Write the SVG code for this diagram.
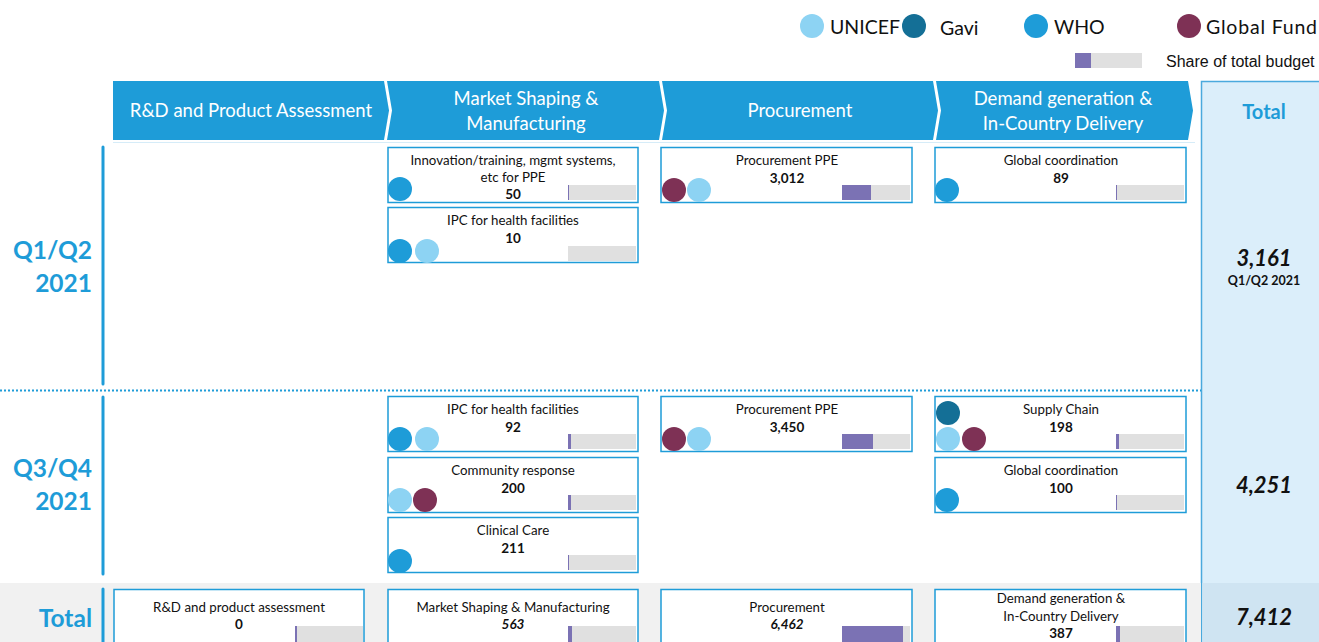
<svg xmlns="http://www.w3.org/2000/svg" width="1319" height="642" viewBox="0 0 1319 642">
<style>
text{font-family:Lato,"Open Sans","Liberation Sans",sans-serif;}
.hd{fill:#fff;font-size:18.5px;text-anchor:middle;}
.hdbg{fill:#1e9cd8;}
.card{fill:#fff;stroke:#1e9cd8;stroke-width:1.5;}
.t{font-size:13.3px;fill:#111;text-anchor:middle;}
.v{font-size:13.5px;fill:#111;font-weight:bold;text-anchor:middle;}
.vi{font-size:13.5px;fill:#111;font-weight:bold;font-style:italic;text-anchor:middle;}
.q{font-size:24.5px;font-weight:bold;fill:#1e9cd8;text-anchor:end;}
.bg{fill:#e0e0e0;}
.pu{fill:#7b72b4;}
.un{fill:#8dd3f3;}
.ga{fill:#146f96;}
.wh{fill:#1e9cd8;}
.gf{fill:#7e3155;}
.vl{stroke:#1e9cd8;stroke-width:3;stroke-linecap:round;}
.tot{font-size:22px;font-weight:bold;font-style:italic;fill:#111;text-anchor:middle;}
.lg{font-size:19.5px;fill:#111;}
</style>
<rect width="1319" height="642" fill="#fff"/>
<!-- legend -->
<g id="legend">
<circle class="un" cx="812" cy="26" r="12"/><text class="lg" x="830" y="34">UNICEF</text>
<circle class="ga" cx="914" cy="26" r="12"/><text class="lg" x="940" y="35">Gavi</text>
<circle class="wh" cx="1036" cy="26" r="12"/><text class="lg" x="1054" y="34">WHO</text>
<circle class="gf" cx="1189" cy="26" r="12"/><text class="lg" x="1206" y="34" textLength="111">Global Fund</text>
<rect class="bg" x="1075" y="53" width="67" height="15"/><rect class="pu" x="1075" y="53" width="16" height="15"/>
<text x="1166" y="67" style="font-family:'Liberation Sans',Arial,sans-serif;font-size:16px;fill:#111">Share of total budget</text>
</g>
<!-- total column -->
<g id="total-col">
<rect x="1201.5" y="81.5" width="120" height="570" fill="#dbeefa" stroke="#4aa9dd" stroke-width="1.5"/>
<rect x="1202.3" y="583" width="118" height="60" fill="#cfe4f2"/>
<text x="1264" y="119" style="font-size:20px;font-weight:bold;fill:#1e9cd8" text-anchor="middle">Total</text>
<text class="tot" x="1264" y="266">3,161</text>
<text x="1264" y="285" style="font-size:12.5px;font-weight:bold;fill:#111" text-anchor="middle">Q1/Q2 2021</text>
<text class="tot" x="1264" y="493">4,251</text>
<text class="tot" x="1264" y="625">7,412</text>
</g>
<!-- bottom band -->
<rect x="0" y="583" width="1201" height="60" fill="#f1f1f1"/>
<!-- headers -->
<g id="headers">
<polygon class="hdbg" points="113,81 384,81 389,110.5 384,140 113,140"/>
<polygon class="hdbg" points="387,81 659,81 664,110.5 659,140 387,140 392,110.5"/>
<polygon class="hdbg" points="662,81 933,81 938,110.5 933,140 662,140 667,110.5"/>
<polygon class="hdbg" points="936,81 1188,81 1193,110.5 1188,140 936,140 941,110.5"/>
<text class="hd" x="251" y="117">R&amp;D and Product Assessment</text>
<text class="hd" x="526" y="105">Market Shaping &amp;</text>
<text class="hd" x="526" y="130">Manufacturing</text>
<text class="hd" x="800" y="117">Procurement</text>
<text class="hd" x="1063" y="105">Demand generation &amp;</text>
<text class="hd" x="1063" y="130">In-Country Delivery</text>
</g>
<line x1="113" y1="142.5" x2="1195" y2="142.5" stroke="#d6ecf8" stroke-width="1"/>
<!-- row labels -->
<g id="rows">
<line class="vl" x1="103" y1="147" x2="103" y2="384"/>
<text class="q" x="92" y="259">Q1/Q2</text>
<text class="q" x="92" y="292">2021</text>
<line x1="0" y1="390.5" x2="1201" y2="390.5" stroke="#1e9cd8" stroke-width="2" stroke-dasharray="2,2"/>
<line class="vl" x1="103" y1="397" x2="103" y2="574"/>
<text class="q" x="92" y="477">Q3/Q4</text>
<text class="q" x="92" y="510">2021</text>
<line class="vl" x1="103" y1="589" x2="103" y2="645"/>
<text class="q" x="92" y="627">Total</text>
</g>
<!-- Q1/Q2 cards -->
<g id="q1-innovation">
<rect class="card" x="388" y="147.5" width="250" height="55"/>
<text class="t" x="513" y="165">Innovation/training, mgmt systems,</text>
<text class="t" x="513" y="182">etc for PPE</text>
<text class="v" x="513" y="199">50</text>
<rect class="bg" x="568" y="185" width="68" height="15"/><rect class="pu" x="568" y="185" width="1" height="15"/>
<circle class="wh" cx="400" cy="189" r="12"/>
</g>
<g id="q1-ipc">
<rect class="card" x="388" y="207.5" width="250" height="55"/>
<text class="t" x="513" y="225">IPC for health facilities</text>
<text class="v" x="513" y="243">10</text>
<rect class="bg" x="568" y="246" width="68" height="15"/>
<circle class="wh" cx="400" cy="251" r="12"/><circle class="un" cx="427" cy="251" r="12"/>
</g>
<g id="q1-procurement">
<rect class="card" x="661" y="147.5" width="251" height="55"/>
<text class="t" x="787" y="165">Procurement PPE</text>
<text class="v" x="787" y="183">3,012</text>
<rect class="bg" x="842" y="185" width="68" height="15"/><rect class="pu" x="842" y="185" width="29" height="15"/>
<circle class="gf" cx="674" cy="190" r="12"/><circle class="un" cx="699" cy="190" r="12"/>
</g>
<g id="q1-global">
<rect class="card" x="935" y="147.5" width="251" height="55"/>
<text class="t" x="1061" y="165">Global coordination</text>
<text class="v" x="1061" y="183">89</text>
<rect class="bg" x="1116" y="185" width="68" height="15"/><rect class="pu" x="1116" y="185" width="1" height="15"/>
<circle class="wh" cx="947" cy="190" r="12"/>
</g>
<!-- Q3/Q4 cards -->
<g id="q3-ipc">
<rect class="card" x="388" y="396.5" width="250" height="55"/>
<text class="t" x="513" y="414">IPC for health facilities</text>
<text class="v" x="513" y="432">92</text>
<rect class="bg" x="568" y="434" width="68" height="15"/><rect class="pu" x="568" y="434" width="3" height="15"/>
<circle class="wh" cx="400" cy="439" r="12"/><circle class="un" cx="427" cy="439" r="12"/>
</g>
<g id="q3-community">
<rect class="card" x="388" y="457.5" width="250" height="55"/>
<text class="t" x="513" y="475">Community response</text>
<text class="v" x="513" y="493">200</text>
<rect class="bg" x="568" y="495" width="68" height="15"/><rect class="pu" x="568" y="495" width="3" height="15"/>
<circle class="un" cx="400" cy="500" r="12"/><circle class="gf" cx="425" cy="500" r="12"/>
</g>
<g id="q3-clinical">
<rect class="card" x="388" y="517.5" width="250" height="55"/>
<text class="t" x="513" y="535">Clinical Care</text>
<text class="v" x="513" y="553">211</text>
<rect class="bg" x="568" y="555" width="68" height="15"/><rect class="pu" x="568" y="555" width="1" height="15"/>
<circle class="wh" cx="400" cy="561" r="12"/>
</g>
<g id="q3-procurement">
<rect class="card" x="661" y="396.5" width="251" height="55"/>
<text class="t" x="787" y="414">Procurement PPE</text>
<text class="v" x="787" y="432">3,450</text>
<rect class="bg" x="842" y="434" width="68" height="15"/><rect class="pu" x="842" y="434" width="31" height="15"/>
<circle class="gf" cx="674" cy="439" r="12"/><circle class="un" cx="699" cy="439" r="12"/>
</g>
<g id="q3-supply">
<rect class="card" x="935" y="396.5" width="251" height="55"/>
<text class="t" x="1061" y="414">Supply Chain</text>
<text class="v" x="1061" y="432">198</text>
<rect class="bg" x="1116" y="434" width="68" height="15"/><rect class="pu" x="1116" y="434" width="3" height="15"/>
<circle class="ga" cx="948" cy="413" r="12"/><circle class="un" cx="948" cy="439" r="12"/><circle class="gf" cx="974" cy="439" r="12"/>
</g>
<g id="q3-global">
<rect class="card" x="935" y="457.5" width="251" height="55"/>
<text class="t" x="1061" y="475">Global coordination</text>
<text class="v" x="1061" y="493">100</text>
<rect class="bg" x="1116" y="495" width="68" height="15"/><rect class="pu" x="1116" y="495" width="1" height="15"/>
<circle class="wh" cx="947" cy="500" r="12"/>
</g>
<!-- totals row -->
<g id="tot-rd">
<rect class="card" x="114" y="589.5" width="250" height="60"/>
<text class="t" x="239" y="612">R&amp;D and product assessment</text>
<text class="v" x="239" y="629">0</text>
<rect class="bg" x="295" y="626" width="68" height="20"/><rect class="pu" x="295" y="626" width="2" height="20"/>
</g>
<g id="tot-market">
<rect class="card" x="388" y="589.5" width="250" height="60"/>
<text class="t" x="513" y="612">Market Shaping &amp; Manufacturing</text>
<text class="vi" x="513" y="629">563</text>
<rect class="bg" x="568" y="626" width="68" height="20"/><rect class="pu" x="568" y="626" width="4" height="20"/>
</g>
<g id="tot-proc">
<rect class="card" x="661" y="589.5" width="251" height="60"/>
<text class="t" x="787" y="612">Procurement</text>
<text class="vi" x="787" y="629">6,462</text>
<rect class="bg" x="842" y="626" width="68" height="20"/><rect class="pu" x="842" y="626" width="61" height="20"/>
</g>
<g id="tot-demand">
<rect class="card" x="935" y="589.5" width="251" height="60"/>
<text class="t" x="1061" y="603">Demand generation &amp;</text>
<text class="t" x="1061" y="621">In-Country Delivery</text>
<text class="v" x="1061" y="638">387</text>
<rect class="bg" x="1116" y="626" width="68" height="20"/><rect class="pu" x="1116" y="626" width="4" height="20"/>
</g>
</svg>
